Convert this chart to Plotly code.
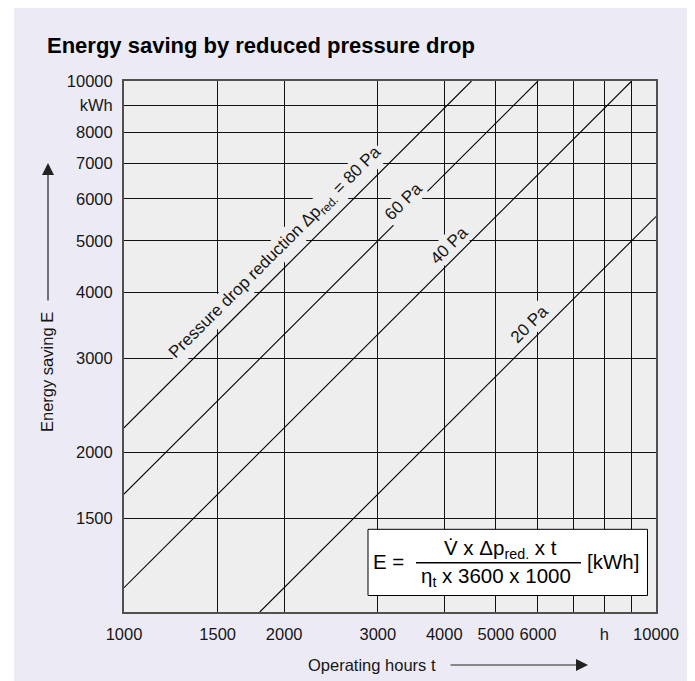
import plotly.graph_objects as go

# ---- data (operating hours t [h] -> energy saving E [kWh]) ----
hours_80 = [1000, 4500]
energy_80 = [2222, 10000]
hours_60 = [1000, 6000]
energy_60 = [1667, 10000]
hours_40 = [1000, 9000]
energy_40 = [1111, 10000]
hours_20 = [1800, 10000]
energy_20 = [1000, 5556]

pressure_labels = ["Pressure drop reduction Δp<sub>red.</sub> = 80 Pa", "60 Pa", "40 Pa", "20 Pa"]

x_tickvals = [1000, 1500, 2000, 3000, 4000, 5000, 6000, 7000, 8000, 9000, 10000]
x_ticktext = ["1000", "1500", "2000", "3000", "4000", "5000", "6000", "", "h", "", "10000"]
y_tickvals = [1000, 1500, 2000, 3000, 4000, 5000, 6000, 7000, 8000, 9000, 10000]
y_ticktext = ["", "1500", "2000", "3000", "4000", "5000", "6000", "7000", "8000", "kWh", "10000"]

title_text = "Energy saving by reduced pressure drop"
x_title = "Operating hours t"
y_title = "Energy saving E"

# ---- layout geometry (page has an 8px body margin) ----
OFF = 8
SW, SH = 695, 681                 # screen size
PL, PR, PT, PB = 124, 656, 81, 612  # plot area on screen
W, H = SW - OFF, SH - OFF
L, T = PL - OFF, PT - OFF
R, B = SW - PR, SH - PB
PW, PH = PR - PL, PB - PT
FONT = "Liberation Sans, Arial, Helvetica, sans-serif"
TXT = "#161616"
PANEL = "#ECEBF5"
PLOTBG = "#EEEEEE"


def px(x):
    return (x - PL) / PW


def py(y):
    return (PB - y) / PH


fig = go.Figure()
for hrs, en in [(hours_80, energy_80), (hours_60, energy_60), (hours_40, energy_40), (hours_20, energy_20)]:
    fig.add_trace(go.Scatter(x=hrs, y=en, mode="lines", line=dict(color="black", width=1.1),
                             hoverinfo="skip", showlegend=False))

axis_common = dict(type="log", range=[3, 4], showline=True, linecolor="#505050", linewidth=2,
                   mirror=True, showgrid=True, gridcolor="#111111", gridwidth=1.1, ticks="",
                   zeroline=False, tickfont=dict(family=FONT, size=16.5, color=TXT), fixedrange=True)

fig.update_xaxes(**axis_common, tickmode="array", tickvals=x_tickvals, ticktext=x_ticktext,
                 ticklabelstandoff=6)
fig.update_yaxes(**axis_common, tickmode="array", tickvals=y_tickvals, ticktext=y_ticktext,
                 ticklabelstandoff=6)

shapes = [
    dict(type="rect", xref="paper", yref="paper", x0=px(14), x1=px(SW + 2), y0=py(SH + 2), y1=py(7),
         fillcolor=PANEL, line=dict(width=0), layer="below"),
    dict(type="rect", xref="paper", yref="paper", x0=0, x1=1, y0=0, y1=1,
         fillcolor=PLOTBG, line=dict(width=0), layer="below"),
    # formula box
    dict(type="rect", xref="paper", yref="paper", x0=px(368), x1=px(647.5), y0=py(595.5), y1=py(529.3),
         fillcolor="white", line=dict(color="black", width=1), layer="above"),
    # fraction bar
    dict(type="line", xref="paper", yref="paper", x0=px(416), x1=px(581), y0=py(562.7), y1=py(562.7),
         line=dict(color="black", width=1.5), layer="above"),
]

annotations = [
    dict(text="<b>" + title_text + "</b>", xref="paper", yref="paper", x=px(45), y=py(46),
         xanchor="left", yanchor="middle", showarrow=False, font=dict(family=FONT, size=22, color="black")),
    dict(text=y_title, xref="paper", yref="paper", x=px(47), y=py(372), textangle=-90,
         xanchor="center", yanchor="middle", showarrow=False, font=dict(family=FONT, size=16.5, color=TXT)),
    dict(text=x_title, xref="paper", yref="paper", x=px(372), y=py(665),
         xanchor="center", yanchor="middle", showarrow=False, font=dict(family=FONT, size=16.5, color=TXT)),
    # axis arrows
    dict(text="", xref="paper", yref="paper", x=px(48), y=py(163), ax=0, ay=139, showarrow=True,
         arrowhead=2, arrowsize=2.0, arrowwidth=1.2, arrowcolor="#222222"),
    dict(text="", xref="paper", yref="paper", x=px(588), y=py(665), ax=-139, ay=0, showarrow=True,
         arrowhead=2, arrowsize=2.0, arrowwidth=1.2, arrowcolor="#222222"),
]

label_pos = [(276, 253), (403.5, 201.3), (449.2, 245.8), (529.2, 324.2)]
for txt, (lx, ly) in zip(pressure_labels, label_pos):
    annotations.append(dict(text=txt, xref="paper", yref="paper", x=px(lx), y=py(ly), textangle=-45,
                            xanchor="center", yanchor="middle", showarrow=False, bgcolor=PLOTBG,
                            borderpad=1, font=dict(family=FONT, size=17, color=TXT)))

# formula
formula_font = dict(family=FONT, size=20.5, color="black")
annotations += [
    dict(text="E =", xref="paper", yref="paper", x=px(388.5), y=py(561), xanchor="center",
         yanchor="middle", showarrow=False, font=formula_font),
    dict(text="V\u0307 x Δp<sub>red.</sub> x t", xref="paper", yref="paper", x=px(500), y=py(549),
         xanchor="center", yanchor="middle", showarrow=False, font=formula_font),
    dict(text="η<sub>t</sub> x 3600 x 1000", xref="paper", yref="paper", x=px(496), y=py(577),
         xanchor="center", yanchor="middle", showarrow=False, font=formula_font),
    dict(text="[kWh]", xref="paper", yref="paper", x=px(613), y=py(561), xanchor="center",
         yanchor="middle", showarrow=False, font=formula_font),
]

fig.update_layout(width=W, height=H, margin=dict(l=L, r=R, t=T, b=B, pad=0, autoexpand=False),
                  paper_bgcolor="white", plot_bgcolor=PLOTBG, shapes=shapes, annotations=annotations,
                  showlegend=False, font=dict(family=FONT, color=TXT))

fig.write_html("out.html")
